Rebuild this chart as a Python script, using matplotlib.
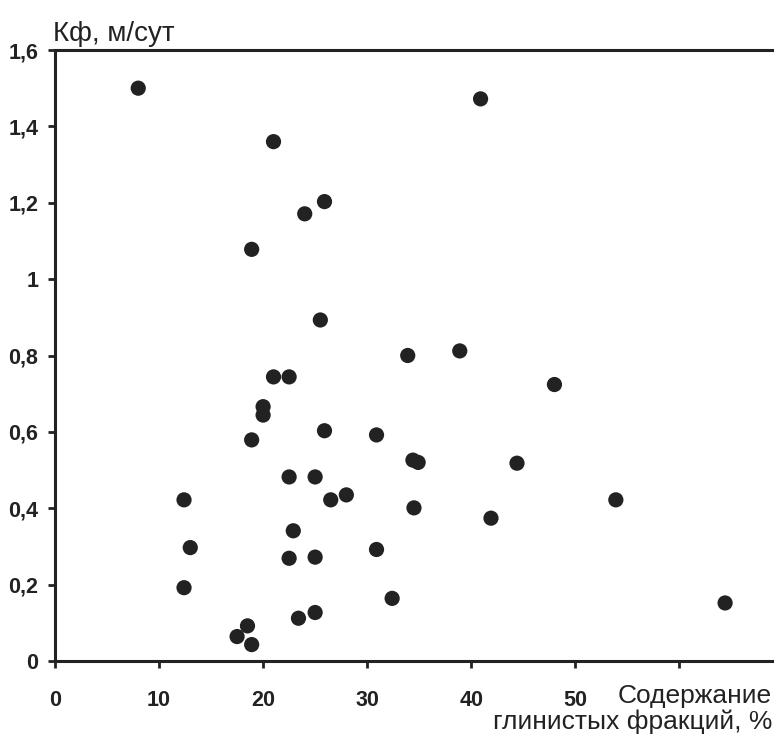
import numpy as np
import matplotlib.pyplot as plt
from matplotlib.ticker import FuncFormatter

# содержание глинистых фракций, %
clay = [8.0, 40.9, 21.0, 25.9, 24.0, 18.9,
        25.5, 33.9, 21.0, 22.5, 20.0, 20.0, 18.9, 25.9, 30.9, 34.4, 34.9, 22.5, 25.0,
        12.4, 26.5, 28.0, 34.5, 22.9, 13.0, 22.5, 25.0, 30.9, 12.4, 32.4, 25.0, 23.4,
        18.5, 17.5, 18.9,
        38.9, 48.0, 44.4, 53.9, 41.9, 64.4]
# коэффициент фильтрации, м/сут
kf = [1.50, 1.472, 1.36, 1.203, 1.171, 1.078,
      0.893, 0.80, 0.744, 0.744, 0.666, 0.644, 0.579, 0.603, 0.592, 0.526, 0.52, 0.482, 0.482,
      0.422, 0.422, 0.435, 0.401, 0.341, 0.297, 0.269, 0.272, 0.292, 0.192, 0.164, 0.127, 0.112,
      0.092, 0.064, 0.043,
      0.812, 0.724, 0.518, 0.422, 0.374, 0.152]

x_ticks = [0, 10, 20, 30, 40, 50, 60]
x_labels = ["0", "10", "20", "30", "40", "50", ""]
y_ticks = [0, 0.2, 0.4, 0.6, 0.8, 1.0, 1.2, 1.4, 1.6]

fam = ["Liberation Sans", "DejaVu Sans"]
ink = "#222222"

fig = plt.figure(figsize=(7.74, 7.38), dpi=100)
ax = fig.add_axes([55 / 774, 1 - 661 / 738, 1 - 55 / 774, (661 - 50) / 738])

ax.scatter(clay, kf, s=120, color=ink, edgecolors="none", zorder=3, clip_on=False)

ax.set_xlim(0, 69.1)
ax.set_ylim(0, 1.6)
ax.set_xticks(x_ticks)
ax.set_xticklabels(x_labels)
ax.set_yticks(y_ticks)
ax.yaxis.set_major_formatter(FuncFormatter(lambda v, p: f"{v:g}".replace(".", ",")))

ax.spines["right"].set_visible(False)
for s in ["left", "bottom", "top"]:
    ax.spines[s].set_linewidth(2.2)
    ax.spines[s].set_color(ink)

ax.tick_params(axis="both", direction="out", length=5, width=2, color=ink)
ax.tick_params(axis="x", pad=16)
ax.tick_params(axis="y", pad=7)
for lab in ax.get_xticklabels() + ax.get_yticklabels():
    lab.set_family(fam)
    lab.set_fontweight("bold")
    lab.set_fontsize(15.5)
    lab.set_color(ink)

fig.text(53 / 774, 1 - 41 / 738, "Кф, м/сут", family=fam, fontsize=20,
         color=ink, ha="left", va="baseline")
# подпись оси X в две строки, прижата вправо
fig.text(772 / 774, 1 - 703 / 738, "Содержание", family=fam,
         fontsize=19, color=ink, ha="right", va="baseline")
fig.text(772 / 774, 1 - 729 / 738, "глинистых фракций, %", family=fam,
         fontsize=19, color=ink, ha="right", va="baseline")

fig.savefig("out.png", dpi=100)
